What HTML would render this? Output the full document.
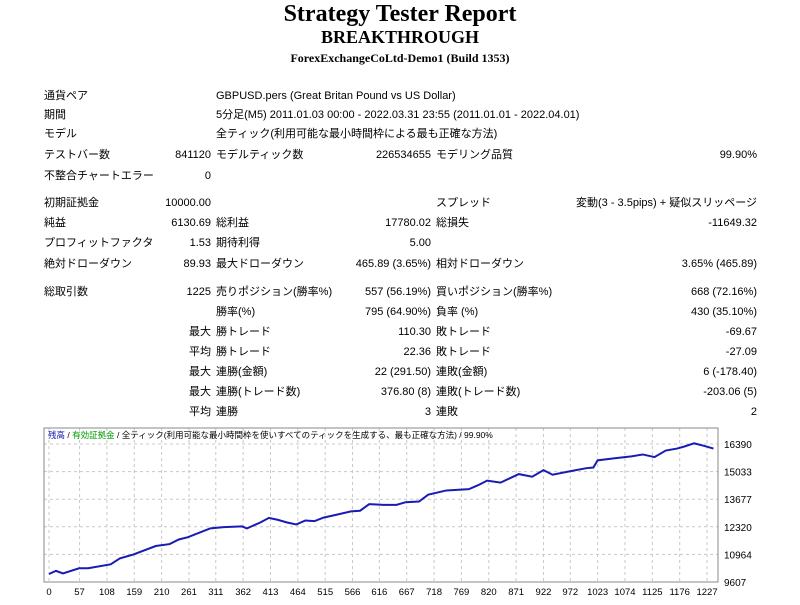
<!DOCTYPE html>
<html><head><meta charset="utf-8">
<style>
body{margin:0;background:#fff;width:800px;height:605px;overflow:hidden;position:relative;font-family:"Liberation Sans","Noto Sans CJK JP",sans-serif;color:#000}
.t{position:absolute;font-size:11px;white-space:nowrap;line-height:14px}
.r{text-align:right}
h1,h2,h3{position:absolute;left:0;width:800px;text-align:center;margin:0;font-family:"Liberation Serif","Noto Serif CJK SC",serif;font-weight:bold}
</style></head><body>
<h1 style="top:1px;font-size:24px">Strategy Tester Report</h1>
<h2 style="top:27px;font-size:18px">BREAKTHROUGH</h2>
<h3 style="top:51px;font-size:12px">ForexExchangeCoLtd-Demo1 (Build 1353)</h3>
<div id="tbl"></div>
<svg id="chart" width="800" height="605" style="position:absolute;left:0;top:0"></svg>
<script>
const rows=[
[89,"通貨ペア","", "GBPUSD.pers (Great Britan Pound vs US Dollar)","","",""],
[108,"期間","", "5分足(M5) 2011.01.03 00:00 - 2022.03.31 23:55 (2011.01.01 - 2022.04.01)","","",""],
[127,"モデル","", "全ティック(利用可能な最小時間枠による最も正確な方法)","","",""],
[148,"テストバー数","841120","モデルティック数","226534655","モデリング品質","99.90%"],
[169,"不整合チャートエラー","0","","","",""],
[196,"初期証拠金","10000.00","","","スプレッド","変動(3 - 3.5pips) + 疑似スリッページ"],
[216,"純益","6130.69","総利益","17780.02","総損失","-11649.32"],
[236,"プロフィットファクタ","1.53","期待利得","5.00","",""],
[257,"絶対ドローダウン","89.93","最大ドローダウン","465.89 (3.65%)","相対ドローダウン","3.65% (465.89)"],
[285,"総取引数","1225","売りポジション(勝率%)","557 (56.19%)","買いポジション(勝率%)","668 (72.16%)"],
[305,"","","勝率(%)","795 (64.90%)","負率 (%)","430 (35.10%)"],
[325,"","最大","勝トレード","110.30","敗トレード","-69.67"],
[345,"","平均","勝トレード","22.36","敗トレード","-27.09"],
[365,"","最大","連勝(金額)","22 (291.50)","連敗(金額)","6 (-178.40)"],
[385,"","最大","連勝(トレード数)","376.80 (8)","連敗(トレード数)","-203.06 (5)"],
[405,"","平均","連勝","3","連敗","2"]];
const tbl=document.getElementById('tbl');
function cell(txt,x,y,right,w){if(!txt)return;const d=document.createElement('div');


d.className='t'+(right?' r':'');d.style.top=y+'px';
if(right){d.style.left=(x-w)+'px';d.style.width=w+'px';}else d.style.left=x+'px';
d.textContent=txt;tbl.appendChild(d);}
rows.forEach(r=>{const y=r[0];cell(r[1],44,y);cell(r[2],211,y,true,120);cell(r[3],216,y);cell(r[4],431,y,true,150);cell(r[5],436,y);cell(r[6],757,y,true,200);});

// chart data
const trades=[0,13,26,56,73,115,132,157,199,225,242,259,301,326,360,369,394,410,427,444,461,478,495,512,537,563,580,597,622,648,665,690,707,741,783,800,817,842,876,901,922,939,969,1002,1015,1023,1053,1086,1107,1129,1150,1171,1184,1203,1222,1239];
const balance=[10000,10153,10025,10282,10282,10475,10764,10957,11375,11471,11697,11809,12243,12307,12339,12243,12532,12757,12661,12532,12436,12629,12597,12773,12918,13079,13111,13432,13400,13400,13529,13561,13898,14107,14172,14364,14589,14493,14911,14782,15104,14879,15040,15201,15233,15587,15683,15780,15876,15748,16069,16165,16261,16422,16294,16165];
const yTicks=[16390,15033,13677,12320,10964,9607];
const xTicks=[0,57,108,159,210,261,311,362,413,464,515,566,616,667,718,769,820,871,922,972,1023,1074,1125,1176,1227];
const X=t=>49+t*0.5363, Y=v=>582-(v-9607)/(16390-9607)*138;
const svg=document.getElementById('chart'),NS='http://www.w3.org/2000/svg';
function el(n,a,txt){const e=document.createElementNS(NS,n);for(const k in a)e.setAttribute(k,a[k]);if(txt!==undefined)e.textContent=txt;svg.appendChild(e);return e;}
yTicks.forEach(v=>{const g=el('line',{x1:44,x2:718,y1:Y(v),y2:Y(v),stroke:'#c8c8c8','stroke-dasharray':'3,3'});


const t=el('text',{x:724,y:Y(v)+4,'font-size':10,'font-family':'Liberation Sans'},v);

});
xTicks.forEach(v=>{const g=el('line',{x1:X(v),x2:X(v),y1:428,y2:582,stroke:'#c8c8c8','stroke-dasharray':'3,3'});


const t=el('text',{x:X(v),y:595,'font-size':9.5,'text-anchor':'middle','font-family':'Liberation Sans'},v);

});
const f=el('rect',{x:44,y:428,width:674,height:154,fill:'none',stroke:'#888'});


const p=el('polyline',{points:trades.map((t,i)=>X(t)+','+Y(balance[i])).join(' '),fill:'none',stroke:'#1a1ab4','stroke-width':2});


const lg=el('text',{x:48,y:438,'font-size':8.5,'font-family':'Liberation Sans, Noto Sans CJK JP, sans-serif'});


lg.innerHTML='<tspan fill="#1a1ab4">残高</tspan> / <tspan fill="#00a000">有効証拠金</tspan> / 全ティック(利用可能な最小時間枠を使いすべてのティックを生成する、最も正確な方法) / 99.90%';
</script>
</body></html>
